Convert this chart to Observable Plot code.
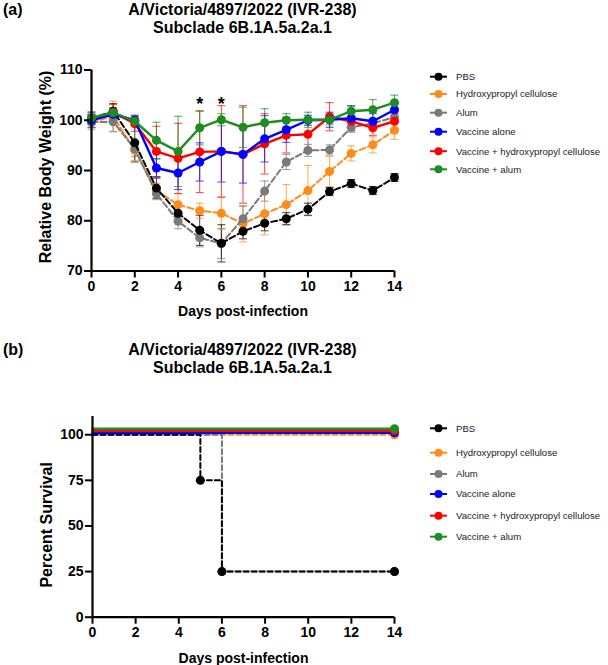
<!DOCTYPE html>
<html><head><meta charset="utf-8">
<script src="https://cdn.jsdelivr.net/npm/d3@7"></script>
<script src="https://cdn.jsdelivr.net/npm/@observablehq/plot@0.6"></script>
<style>
body{margin:0;background:#fff;font-family:"Liberation Sans",Arial,sans-serif;}
#root{position:relative;width:608px;height:665px;overflow:hidden;background:#fff;}
.abs{position:absolute;}
.panel{font-weight:bold;font-size:16px;line-height:18px;}
.title{font-weight:bold;font-size:16px;text-align:center;line-height:18px;width:400px;}
</style></head><body><div id="root"></div>
<script>
// ---------- data ----------
const groups = ["PBS","Hydroxypropyl cellulose","Alum","Vaccine alone","Vaccine + hydroxypropyl cellulose","Vaccine + alum"];
const colors = ["#000000","#ff8c1a","#7a7a7a","#0000ff","#ff0000","#1e8c1e"];
const dashedGroup = [true,true,true,false,false,false];

const days = [0,1,2,3,4,5,6,7,8,9,10,11,12,13,14];
const xTicks = [0,2,4,6,8,10,12,14];
const weightTicks = [70,80,90,100,110];
const survivalTicks = [0,25,50,75,100];

const pbsWeight     = [100.3,101.8,95.5,86.5,81.5,78.1,75.5,77.9,79.5,80.4,82.3,85.8,87.4,86.0,88.6];
const hpcWeight     = [99.6,100.8,94.0,86.0,83.2,82.0,81.5,79.4,81.4,83.2,86.0,89.8,93.4,95.1,98.0];
const alumWeight    = [99.6,99.7,94.3,85.4,79.9,76.6,75.5,80.4,85.9,91.7,94.0,94.1,98.6,99.4,100.6];
const vacWeight     = [100.0,101.2,100.0,90.5,89.5,91.7,93.8,93.2,96.3,98.1,100.0,100.1,100.4,99.8,102.1];
const vacHpcWeight  = [100.2,101.6,99.3,93.8,92.4,93.7,93.8,93.2,95.3,97.0,97.2,100.7,99.8,98.5,99.8];
const vacAlumWeight = [100.5,101.5,99.8,96.0,93.8,98.5,100.1,98.6,99.5,100.0,100.1,100.1,101.8,102.1,103.5];

const pbsSD     = [0.8,1.5,3.8,2.0,1.8,3.0,3.7,1.5,1.5,1.2,1.2,0.8,0.8,0.8,0.8];
const hpcSD     = [1.5,3.0,2.0,1.5,2.2,1.5,3.2,3.6,4.2,4.0,5.0,3.0,1.5,1.6,1.8];
const alumSD    = [1.0,2.0,1.5,1.2,1.5,1.8,3.0,2.5,2.0,1.5,1.2,1.0,1.0,1.0,1.0];
const vacSD     = [1.5,1.0,1.0,1.8,3.3,3.8,6.1,5.7,4.6,2.5,1.0,1.5,2.5,1.5,1.5];
const vacHpcSD  = [1.0,1.5,1.5,5.0,7.0,8.1,9.1,9.7,6.0,3.5,3.0,2.8,1.0,1.5,1.5];
const vacAlumSD = [1.2,1.0,1.0,3.6,7.0,3.4,1.2,4.0,2.8,1.3,1.5,1.0,1.0,2.0,1.5];

const sigDays = [5,6];
const sigLevel = 103.2;

// survival (Kaplan–Meier steps)
const pbsSurvDays = [0,5,6,14],  pbsSurv = [100,75,25,25];
const alumSurvDays = [0,6,14],   alumSurv = [100,25,25];
const otherSurvDays = [0,14],    otherSurv = [100,100];

// ---------- tables ----------
const weightMeans = [pbsWeight,hpcWeight,alumWeight,vacWeight,vacHpcWeight,vacAlumWeight];
const weightSDs = [pbsSD,hpcSD,alumSD,vacSD,vacHpcSD,vacAlumSD];
const weightRows = groups.map((g,i)=>days.map((d,j)=>({group:g, day:d, mean:weightMeans[i][j], lo:weightMeans[i][j]-weightSDs[i][j], hi:weightMeans[i][j]+weightSDs[i][j]})));

const survSeries = [
  [pbsSurvDays,pbsSurv],[otherSurvDays,otherSurv],[alumSurvDays,alumSurv],
  [otherSurvDays,otherSurv],[otherSurvDays,otherSurv],[otherSurvDays,otherSurv]
];
const survRows = groups.map((g,i)=>survSeries[i][0].map((d,j)=>({group:g, day:d, s:survSeries[i][1][j]})));

const root = document.getElementById("root");
const FONT = '"Liberation Sans", Arial, sans-serif';

const cap = {draw(ctx,size){const r=Math.sqrt(size/Math.PI); ctx.moveTo(-r,0); ctx.lineTo(r,0);}};

function axisMarks(yTicks, ylabel, xlabel, ylabelDy){
  return [
    Plot.axisX(xTicks,{tickSize:7, tickPadding:3, strokeWidth:2, fontSize:14, fontWeight:"bold", label:null}),
    Plot.axisY(yTicks,{tickSize:7, tickPadding:2, strokeWidth:2, fontSize:14, fontWeight:"bold", label:null}),
    Plot.ruleX([0],{strokeWidth:2.2}),
    Plot.ruleY([yTicks[0]],{strokeWidth:2.2}),
    Plot.text([xlabel],{frameAnchor:"bottom", dy:41, lineAnchor:"middle", textAnchor:"middle", fontSize:14, fontWeight:"bold"}),
    Plot.text([ylabel],{frameAnchor:"left", dx:-46, dy:ylabelDy, rotate:-90, textAnchor:"middle", lineAnchor:"middle", fontSize:16, fontWeight:"bold"})
  ];
}

// ---------- top: weight ----------
const order = [1,2,0,4,3,5];
const weightChart = Plot.plot({
  width:608, height:320,
  marginLeft:91, marginRight:214, marginTop:69.5, marginBottom:49.5,
  x:{domain:[0,14]}, y:{domain:[70,110]},
  style:{fontFamily:FONT, color:"#000", background:"transparent", overflow:"visible"},
  marks:[
    ...order.map(i=>Plot.ruleX(weightRows[i],{x:"day", y1:"lo", y2:"hi", stroke:colors[i], strokeWidth:1, strokeOpacity:0.75})),
    ...order.flatMap(i=>[
      Plot.dot(weightRows[i],{x:"day", y:"lo", symbol:cap, r:4, fill:"none", stroke:colors[i], strokeWidth:1, strokeOpacity:0.75}),
      Plot.dot(weightRows[i],{x:"day", y:"hi", symbol:cap, r:4, fill:"none", stroke:colors[i], strokeWidth:1, strokeOpacity:0.75})
    ]),
    ...order.flatMap(i=>[
      Plot.line(weightRows[i],{x:"day", y:"mean", stroke:colors[i], strokeWidth:dashedGroup[i]?2:2.4, strokeDasharray:dashedGroup[i]?"6,3":null}),
      Plot.dot(weightRows[i],{x:"day", y:"mean", fill:colors[i], r:4.5})
    ]),
    Plot.text(sigDays,{x:d=>d, y:()=>sigLevel, text:()=>"*", fontSize:18, fontWeight:"bold"}),
    ...axisMarks(weightTicks,"Relative Body Weight (%)","Days post-infection",-3.5)
  ]
});
weightChart.style.position="absolute"; weightChart.style.left="0px"; weightChart.style.top="0px";
root.appendChild(weightChart);

// ---------- bottom: survival ----------
const survOrder = [1,2,0,3,4,5];
const survDy = [0,0,0,-2,-4,-6];
const survChart = Plot.plot({
  width:608, height:335,
  marginLeft:92, marginRight:214, marginTop:86, marginBottom:48.3,
  x:{domain:[0,14]}, y:{domain:[0,110]},
  style:{fontFamily:FONT, color:"#000", background:"transparent", overflow:"visible"},
  marks:[
    ...survOrder.flatMap(i=>[
      Plot.line(survRows[i],{x:"day", y:"s", curve:"step-after", dy:survDy[i], stroke:colors[i], strokeWidth:dashedGroup[i]?2:2.4, strokeDasharray:dashedGroup[i]?"5,3":null}),
      Plot.dot(survRows[i].filter(r=>r.day>0),{x:"day", y:"s", dy:survDy[i], fill:colors[i], r:4.5})
    ]),
    ...axisMarks(survivalTicks,"Percent Survival","Days post-infection",8)
  ]
});
survChart.style.position="absolute"; survChart.style.left="0px"; survChart.style.top="330px";
root.appendChild(survChart);

// ---------- titles ----------
function addDiv(cls, html, left, topPx){
  const d=document.createElement("div"); d.className="abs "+cls; d.innerHTML=html;
  d.style.left=left+"px"; d.style.top=topPx+"px"; root.appendChild(d); return d;
}
addDiv("panel","(a)",3,1);
addDiv("title","A/Victoria/4897/2022 (IVR-238)<br>Subclade 6B.1A.5a.2a.1",42.5,1);
addDiv("panel","(b)",3,341);
addDiv("title","A/Victoria/4897/2022 (IVR-238)<br>Subclade 6B.1A.5a.2a.1",42.5,341);

// ---------- legends ----------
function legend(topPx, rowY){
  const svg=d3.select(root).append("svg").attr("class","abs")
    .style("left","425px").style("top",topPx+"px").attr("width",183).attr("height",140);
  groups.forEach((g,i)=>{
    const y=rowY[i];
    svg.append("line").attr("x1",5).attr("x2",22).attr("y1",y).attr("y2",y).attr("stroke",colors[i]).attr("stroke-width",2);
    svg.append("circle").attr("cx",13.5).attr("cy",y).attr("r",4).attr("fill",colors[i]);
    svg.append("text").attr("x",31).attr("y",y).attr("dy","0.35em").attr("font-family",FONT).attr("font-size",9.6).attr("fill","#222").text(g);
  });
}
legend(60,[16.7,34,52.7,71.7,91.2,109.3]);
legend(410,[18.3,42.7,64,84,105.7,126.7]);
</script></body></html>
